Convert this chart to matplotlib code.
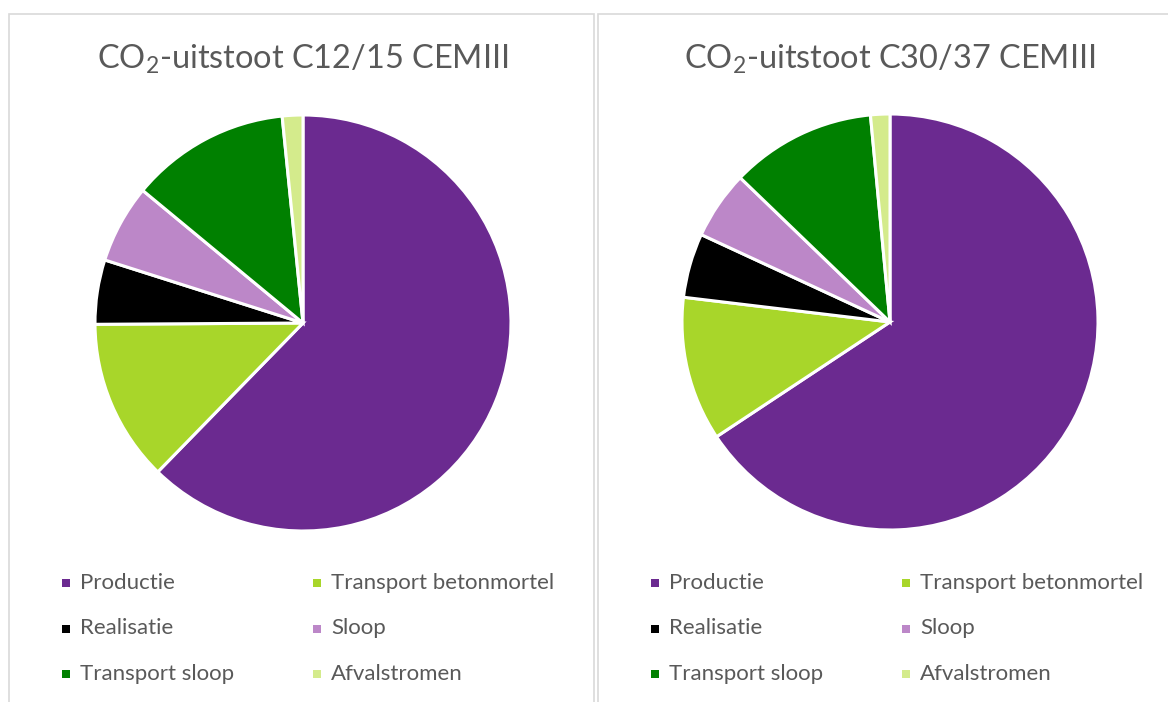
import matplotlib
matplotlib.use("Agg")
import matplotlib.pyplot as plt
from matplotlib.patches import Rectangle

plt.rcParams["font.family"] = ["Lato", "DejaVu Sans"]
plt.rcParams["mathtext.default"] = "regular"

labels = ["Productie", "Transport betonmortel", "Realisatie", "Sloop",
          "Transport sloop", "Afvalstromen"]
colors = ["#6B2A90", "#A8D62A", "#000000", "#BC87C8", "#008000", "#D4EB8C"]

titles = [r"CO$_2$-uitstoot C12/15 CEMIII", r"CO$_2$-uitstoot C30/37 CEMIII"]
share_c12 = [62.3, 12.6, 5.0, 6.1, 12.4, 1.6]
share_c30 = [65.7, 11.2, 5.0, 5.3, 11.3, 1.5]

W, H = 1168, 702
fig = plt.figure(figsize=(W / 100, H / 100), dpi=100)
text_col = "#595959"

# panel layout in pixels: (left, right, pie centre x, pie centre y, legend x0)
panels = [
    (9, 594, 303, 323, 66),
    (598, 1170, 890, 322, 655),
]
radius = 208

for (left, right, cx, cy, lx), title, share in zip(panels, titles, [share_c12, share_c30]):
    fig.patches.append(Rectangle((left / W, -0.01), (right - left) / W, (H - 14) / H + 0.01,
                                 transform=fig.transFigure, fill=False,
                                 edgecolor="#D9D9D9", linewidth=1.2))

    size = 2.5 * radius
    ax = fig.add_axes([(cx - size / 2) / W, 1 - (cy + size / 2) / H, size / W, size / H])
    ax.pie(share, colors=colors, startangle=90, counterclock=False,
           wedgeprops=dict(edgecolor="white", linewidth=2.2))
    ax.set_aspect("equal")

    fig.text(cx / W, 1 - 59 / H, title, ha="center", va="center",
             fontsize=23.4, color=text_col)

    for i, lab in enumerate(labels):
        row, col = divmod(i, 2)
        mx = lx + col * 251
        my = 583 + row * 45.5
        fig.patches.append(Rectangle(((mx - 4) / W, 1 - (my + 4) / H), 8 / W, 8 / H,
                                     transform=fig.transFigure, facecolor=colors[i],
                                     edgecolor="none"))
        fig.text((mx + 14) / W, 1 - my / H, lab, ha="left", va="center",
                 fontsize=16, color=text_col)

fig.savefig("out.png", dpi=100)
